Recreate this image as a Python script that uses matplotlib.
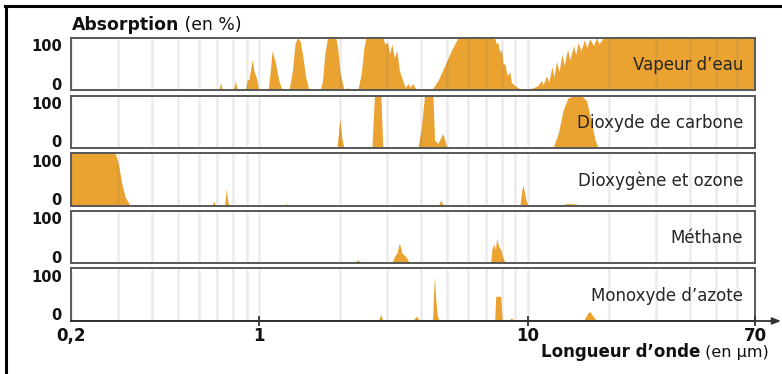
import numpy as np
import matplotlib
matplotlib.use("Agg")
import matplotlib.pyplot as plt
from matplotlib.lines import Line2D
from matplotlib.ticker import LogLocator, NullFormatter

# absorption spectra (wavelength in um, absorption in %)
wl_h2o = [0.2, 0.57, 0.585, 0.60, 0.64, 0.65, 0.66, 0.71, 0.72, 0.73, 0.80, 0.812, 0.818, 0.828, 0.84,
          0.885, 0.892, 0.905, 0.917, 0.931, 0.945, 0.958, 0.972, 0.986, 0.997,
          1.082, 1.105, 1.12, 1.154, 1.187, 1.22,
          1.294, 1.332, 1.362, 1.39, 1.422, 1.452, 1.494, 1.536,
          1.689, 1.724, 1.758, 1.80, 1.932, 1.961, 2.006, 2.076, 2.12, 2.14, 2.17,
          2.33, 2.40, 2.46, 2.50, 2.89, 2.94, 3.01, 3.06, 3.12, 3.19, 3.26, 3.33, 3.43, 3.50, 3.58, 3.66, 3.72, 3.85, 3.92,
          4.38, 4.63, 4.90, 5.19, 5.50, 7.53, 7.64, 7.75, 7.86, 7.98, 8.10, 8.21, 8.38, 8.57, 8.69, 8.94, 9.33,
          10.0, 10.5, 10.9, 11.25, 11.4, 11.74, 11.98, 12.3, 12.5, 12.8, 13.05, 13.4, 13.67, 14.06, 14.34,
          14.8, 15.07, 15.4, 15.76, 16.24, 16.56, 17.0, 17.54, 18.05, 18.4, 19.1, 70]
ab_h2o = [0, 0, 3, 0, 0, 3, 0, 0, 16, 0, 0, 10, 18, 4, 0,
          0, 2, 21, 20, 40, 59, 37, 28, 18, 0,
          0, 43, 76, 50, 18, 0,
          0, 37, 88, 100, 94, 69, 24, 0,
          0, 18, 69, 100, 100, 82, 31, 0, 0, 6, 0,
          0, 31, 82, 100, 100, 88, 91, 69, 88, 62, 75, 37, 18, 5, 13, 6, 13, 2, 0,
          0, 18, 46, 75, 100, 100, 88, 91, 72, 78, 48, 52, 28, 35, 15, 9, 3,
          2, 5, 9, 19, 10, 28, 15, 45, 25, 55, 35, 68, 48, 78, 58,
          85, 68, 91, 75, 96, 81, 98, 85, 100, 88, 100, 100]

wl_co2 = [0.2, 1.40, 1.42, 1.44, 1.57, 1.59, 1.61, 1.95, 1.97, 2.0, 2.03, 2.07, 2.63, 2.67, 2.69, 2.84, 2.89,
          3.90, 4.01, 4.13, 4.44, 4.50, 4.63, 4.83, 4.97, 5.05, 10.0, 10.1, 10.3,
          12.4, 12.98, 13.55, 14.1, 14.8, 15.85, 16.56, 17.29, 17.8, 18.3, 70]
ab_co2 = [0, 0, 3, 0, 0, 2, 0, 0, 22, 57, 22, 0, 0, 67, 100, 100, 0,
          0, 35, 100, 100, 15, 9, 28, 6, 0, 0, 1.5, 0,
          0, 28, 73, 95, 100, 100, 89, 47, 15, 0, 0]

wl_o3 = [0.2, 0.292, 0.300, 0.309, 0.318, 0.332, 0.67, 0.68, 0.69, 0.745, 0.757, 0.765, 0.775,
         1.25, 1.265, 1.28, 4.65, 4.75, 4.85, 9.35, 9.5, 9.6, 9.7, 9.85, 10.05, 13.5, 13.8, 14.5, 15.3, 15.6, 70]
ab_o3 = [100, 100, 80, 42, 17, 0, 0, 9, 0, 0, 33, 10, 0,
         0, 5, 0, 0, 11, 0, 0, 30, 39, 28, 10, 0, 0, 4, 4, 3, 0, 0]

wl_ch4 = [0.2, 2.25, 2.33, 2.42, 3.12, 3.19, 3.26, 3.33, 3.40, 3.52, 3.63,
          7.27, 7.36, 7.49, 7.58, 7.66, 7.80, 7.93, 8.10, 8.25, 70]
ab_ch4 = [0, 0, 7, 0, 0, 13, 20, 39, 20, 13, 0,
          0, 28, 36, 26, 48, 32, 26, 10, 0, 0]

wl_n2o = [0.2, 2.78, 2.84, 2.89, 3.72, 3.85, 3.97, 4.42, 4.47, 4.50, 4.54, 4.60, 4.68,
          7.53, 7.60, 7.93, 8.03, 8.45, 8.69, 8.94, 16.1, 16.7, 17.0, 17.5, 18.05, 70]
ab_n2o = [0, 0, 13, 0, 0, 9, 0, 0, 60, 85, 45, 12, 0,
          0, 47, 47, 0, 0, 6, 0, 0, 15, 18, 9, 0, 0]

gases = ["Vapeur d’eau", "Dioxyde de carbone", "Dioxygène et ozone", "Méthane", "Monoxyde d’azote"]
spectra = [(wl_h2o, ab_h2o), (wl_co2, ab_co2), (wl_o3, ab_o3), (wl_ch4, ab_ch4), (wl_n2o, ab_n2o)]

xticks = [0.2, 1, 10, 70]
xticklabels = ["0,2", "1", "10", "70"]

W, H = 782, 374
orange = "#EAA230"

fig = plt.figure(figsize=(W/100, H/100), dpi=100)

tops = [37.7, 95.5, 153.2, 210.8, 268.4]  # px from top
ph = 52.6
axes = []
for i, (name, (wl, ab)) in enumerate(zip(gases, spectra)):
  assert len(wl) == len(ab)
  ax = fig.add_axes([71/W, 1 - (tops[i] + ph)/H, 684/W, ph/H])
  ax.fill_between(wl, 0, ab, color=orange, lw=0, zorder=1)
  ax.set_xscale("log")
  ax.set_xlim(0.2, 70)
  ax.set_ylim(0, 100)
  ax.set_yticks([])
  ax.xaxis.set_minor_locator(LogLocator(base=10, subs=np.arange(2, 10)))
  ax.xaxis.set_minor_formatter(NullFormatter())
  ax.set_axisbelow(False)
  ax.grid(True, which="both", axis="x", color=(0.45, 0.45, 0.45), alpha=0.14, lw=1.8)
  for s in ax.spines.values():
    s.set_color("#585858")
    s.set_linewidth(1.4)
  ax.text(-0.0136, 0.975, "100", transform=ax.transAxes, ha="right", va="top",
          fontsize=10.5, fontweight="bold", color="#111111")
  ax.text(-0.0136, 0.015, "0", transform=ax.transAxes, ha="right", va="baseline",
          fontsize=10.5, fontweight="bold", color="#111111")
  ax.text(0.9825, 0.385, name, transform=ax.transAxes, ha="right", va="baseline",
          fontsize=12, color="#262626", zorder=5)
  axes.append(ax)

for ax in axes[:-1]:
  ax.tick_params(axis="x", which="both", length=0, labelbottom=False)

ax = axes[-1]
ax.set_xticks(xticks)
ax.set_xticklabels(xticklabels)
ax.tick_params(axis="x", which="minor", length=0)
ax.tick_params(axis="x", which="major", direction="inout", length=7, width=1.3, color="#333333",
               pad=0.5, labelsize=12, labelcolor="#111111")
for lab in ax.get_xticklabels():
  lab.set_fontweight("bold")
ax.xaxis.get_major_ticks()[0].tick1line.set_visible(False)
ax.spines["bottom"].set_color("#333333")

# x axis arrow
yax = 1 - (tops[-1] + ph)/H
ax.annotate("", xy=(781/W, yax), xytext=(71/W, yax), xycoords="figure fraction",
            textcoords="figure fraction",
            arrowprops=dict(arrowstyle="-|>,head_length=0.5,head_width=0.2", color="#333333", lw=1.3,
                            shrinkA=0, shrinkB=0))

# frame (top and left)
fig.add_artist(Line2D([5/W, 1], [1 - 6/H, 1 - 6/H], transform=fig.transFigure, color="black", lw=2.2))
fig.add_artist(Line2D([6/W, 6/W], [0, 1 - 6/H], transform=fig.transFigure, color="black", lw=2.2))

# titles: bold part + regular part
t1 = fig.text(72/W, 1 - 30/H, "Absorption", fontsize=12.4, fontweight="bold", va="baseline", color="#111111")
t3 = fig.text(541/W, 1 - 357/H, "Longueur d’onde", fontsize=12, fontweight="bold", va="baseline", color="#111111")
fig.canvas.draw()
r = fig.canvas.get_renderer()
b1 = t1.get_window_extent(r)
b3 = t3.get_window_extent(r)
fig.text(b1.x1/W, 1 - 30/H, " (en %)", fontsize=12.4, va="baseline", color="#111111")
fig.text(b3.x1/W, 1 - 357/H, " (en µm)", fontsize=11.5, va="baseline", color="#111111")

fig.savefig("out.png", dpi=100)
